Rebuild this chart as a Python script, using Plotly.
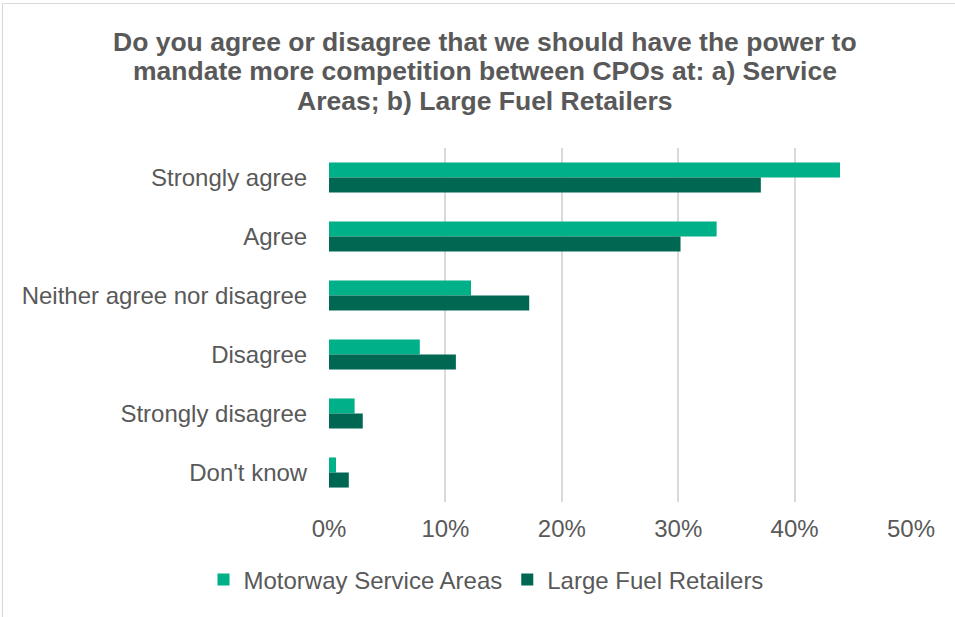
import plotly.graph_objects as go

# Survey responses (share of respondents, %)
categories = [
    "Strongly agree",
    "Agree",
    "Neither agree nor disagree",
    "Disagree",
    "Strongly disagree",
    "Don't know",
]
motorway_service_areas = [43.9, 33.3, 12.2, 7.8, 2.2, 0.6]
large_fuel_retailers = [37.1, 30.2, 17.2, 10.9, 2.9, 1.7]
x_tick_values = [0, 10, 20, 30, 40, 50]
x_tick_labels = ["0%", "10%", "20%", "30%", "40%", "50%"]
title_lines = [
    "Do you agree or disagree that we should have the power to",
    "mandate more competition between CPOs at: a) Service",
    "Areas; b) Large Fuel Retailers",
]

W, H = 955, 617
L, R, T, B = 329, 44, 148, 115
TEXT = "#595959"
FONT = "Liberation Sans, Arial, sans-serif"
LABEL_SIZE = 24
TITLE_SIZE = 26.5

fig = go.Figure()
fig.add_trace(go.Bar(
    y=categories, x=motorway_service_areas, orientation="h",
    name="Motorway Service Areas", marker=dict(color="#00b088", line=dict(width=0)),
))
fig.add_trace(go.Bar(
    y=categories, x=large_fuel_retailers, orientation="h",
    name="Large Fuel Retailers", marker=dict(color="#006752", line=dict(width=0)),
))

pw, ph = W - L - R, H - T - B

def px_x(p):
    return (p - L) / pw

def px_y(p):
    return (H - B - p) / ph

# light chart-area frame
fig.add_shape(
    type="rect", xref="paper", yref="paper",
    x0=px_x(2.5), x1=px_x(W + 20), y0=px_y(H + 20), y1=px_y(3.5),
    line=dict(color="#d9d9d9", width=1.2), fillcolor="rgba(0,0,0,0)", layer="below",
)

# bold three-line chart title, tightly leaded
for i, line in enumerate(title_lines):
    fig.add_annotation(
        text=f"<b>{line}</b>", xref="paper", yref="paper",
        x=px_x(485), y=px_y(42 + 29.5 * i), xanchor="center", yanchor="middle",
        showarrow=False, font=dict(family=FONT, size=TITLE_SIZE, color=TEXT),
    )

fig.update_layout(
    width=W, height=H,
    margin=dict(l=L, r=R, t=T, b=B),
    paper_bgcolor="white", plot_bgcolor="white",
    barmode="group", bargap=0.49, bargroupgap=0,
    font=dict(family=FONT, size=LABEL_SIZE, color=TEXT),
    xaxis=dict(
        range=[0, 50], tickvals=x_tick_values, ticktext=x_tick_labels,
        showgrid=True, gridcolor="#d9d9d9", gridwidth=1.5,
        zeroline=False, showline=False,
        ticks="outside", ticklen=0, ticklabelstandoff=5,
        tickfont=dict(size=LABEL_SIZE, color=TEXT),
        fixedrange=True,
    ),
    yaxis=dict(
        categoryorder="array", categoryarray=categories,
        autorange="reversed",
        showgrid=False, zeroline=False, showline=False,
        ticks="outside", ticklen=0, ticklabelstandoff=16,
        tickfont=dict(size=LABEL_SIZE, color=TEXT),
        fixedrange=True,
    ),
    legend=dict(
        orientation="h", xref="container", yref="container",
        x=486 / W, xanchor="center", y=(H - 580) / H, yanchor="middle",
        font=dict(size=LABEL_SIZE, color=TEXT), itemwidth=30,
        traceorder="normal",
    ),
    showlegend=True,
)

fig.write_html("out.html")
